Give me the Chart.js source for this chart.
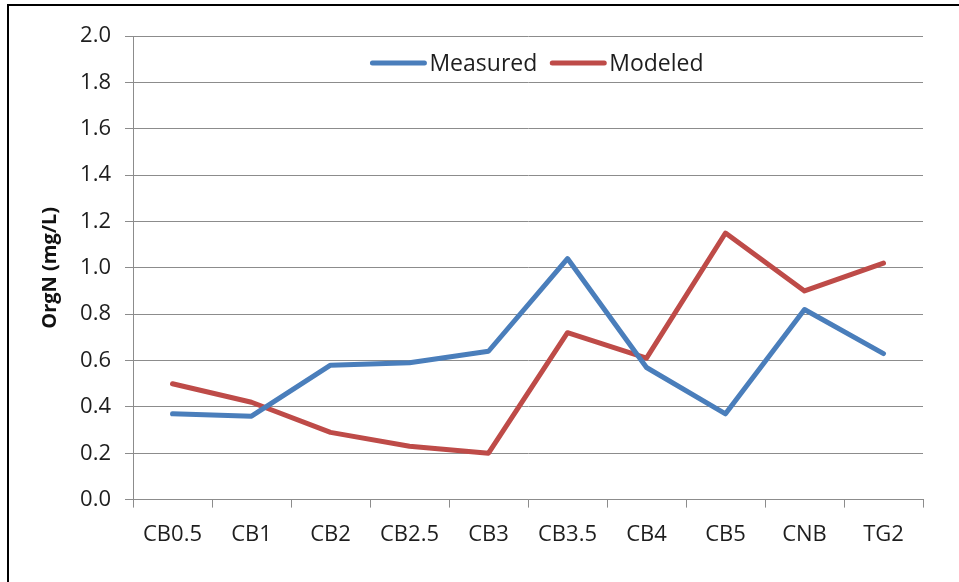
<!DOCTYPE html>
<html>
<head>
<meta charset="utf-8">
<script src="https://cdn.jsdelivr.net/npm/chart.js@4.4.1/dist/chart.umd.min.js"></script>
<style>
  html, body { margin: 0; padding: 0; background: #fff; }
  #wrap { position: relative; width: 959px; height: 582px; }
</style>
</head>
<body>
<div id="wrap"><canvas id="c" width="959" height="582"></canvas></div>
<script>
const categories = ['CB0.5', 'CB1', 'CB2', 'CB2.5', 'CB3', 'CB3.5', 'CB4', 'CB5', 'CNB', 'TG2'];
const measured = [0.37, 0.36, 0.58, 0.59, 0.64, 1.04, 0.57, 0.37, 0.82, 0.63];
const modeled  = [0.50, 0.42, 0.29, 0.23, 0.20, 0.72, 0.61, 1.15, 0.90, 1.02];
const yTicks = [0.0, 0.2, 0.4, 0.6, 0.8, 1.0, 1.2, 1.4, 1.6, 1.8, 2.0];
const yTitle = 'OrgN (mg/L)';

const FONT = "'Open Sans', 'Noto Sans', sans-serif";
const TEXT = '#1e1e1e';
const GRID = '#8c8c8c';

const frame = {
  id: 'frame',
  beforeDraw(chart) {
    const ctx = chart.ctx;
    ctx.save();
    ctx.fillStyle = '#ffffff';
    ctx.fillRect(0, 0, chart.width, chart.height);
    ctx.fillStyle = '#000000';
    ctx.fillRect(7, 4, 2, chart.height - 4);
    ctx.fillRect(7, 4, chart.width - 7, 2);
    ctx.restore();
  }
};

const innerLegend = {
  id: 'innerLegend',
  afterDatasetsDraw(chart) {
    const ctx = chart.ctx;
    ctx.save();
    ctx.font = "23px " + FONT;
    ctx.textBaseline = 'middle';
    const lineW = 56, gapAfterLine = 3, gapBetween = 13;
    const items = chart.data.datasets.map(ds => ({label: ds.label, color: ds.borderColor, w: ctx.measureText(ds.label).width}));
    let total = 0;
    items.forEach((it, i) => { total += lineW + gapAfterLine + it.w + (i < items.length - 1 ? gapBetween : 0); });
    let x = 537 - total / 2;
    const y = 63;
    items.forEach(it => {
      ctx.strokeStyle = it.color;
      ctx.lineWidth = 5;
      ctx.lineCap = 'round';
      ctx.beginPath();
      ctx.moveTo(x + 2, y);
      ctx.lineTo(x + lineW - 2, y);
      ctx.stroke();
      x += lineW + gapAfterLine;
      ctx.fillStyle = TEXT;
      ctx.textAlign = 'left';
      ctx.fillText(it.label, x, y + 1);
      x += it.w + gapBetween;
    });
    ctx.restore();
  }
};

new Chart(document.getElementById('c'), {
  type: 'line',
  data: {
    labels: categories,
    datasets: [
      { label: 'Measured', data: measured, borderColor: '#4a7ebb', backgroundColor: '#4a7ebb', borderWidth: 5, pointRadius: 0, tension: 0, borderJoinStyle: 'round', borderCapStyle: 'round' },
      { label: 'Modeled', data: modeled, borderColor: '#be4b48', backgroundColor: '#be4b48', borderWidth: 5, pointRadius: 0, tension: 0, borderJoinStyle: 'round', borderCapStyle: 'round' }
    ]
  },
  options: {
    responsive: false,
    animation: false,
    devicePixelRatio: 1,
    layout: { padding: { top: 36, right: 36, bottom: 20, left: 0 } },
    plugins: { legend: { display: false }, tooltip: { enabled: false } },
    scales: {
      x: {
        offset: true,
        grid: { offset: true, drawOnChartArea: false, drawTicks: true, tickLength: 8, color: GRID, lineWidth: 1 },
        border: { color: GRID, width: 1 },
        ticks: { color: TEXT, font: { family: FONT, size: 22 }, padding: 14, maxRotation: 0, autoSkip: false }
      },
      y: {
        min: 0, max: 2,
        afterFit(scale) { scale.width = 133; },
        afterBuildTicks(scale) { scale.ticks = yTicks.map(v => ({ value: v })); },
        grid: { drawTicks: true, tickLength: 8, color: GRID, lineWidth: 1 },
        border: { color: GRID, width: 1 },
        ticks: { color: TEXT, font: { family: FONT, size: 22 }, padding: 14, callback: v => Number(v).toFixed(1) },
        title: { display: true, text: yTitle, color: '#111', font: { family: FONT, size: 20, weight: 'bold' }, padding: { top: 38, bottom: 0 } }
      }
    }
  },
  plugins: [frame, innerLegend]
});
</script>
</body>
</html>
